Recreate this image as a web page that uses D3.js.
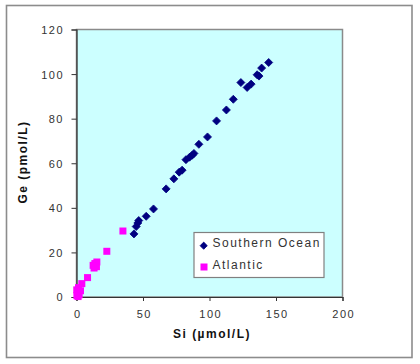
<!DOCTYPE html>
<html>
<head>
<meta charset="utf-8">
<script src="https://cdn.jsdelivr.net/npm/d3@7"></script>
<style>
  body { margin: 0; background: #fff; }
  text { font-family: "Liberation Sans", Arial, sans-serif; }
</style>
</head>
<body>
<div id="chart"></div>
<script>
// Southern Ocean (diamonds)
const southernSi = [43.2, 44.9, 46.1, 46.8, 52.4, 57.9, 67.4, 73.2, 77.2, 79.4, 82.3, 85.0, 87.0, 88.3,
  92.0, 98.5, 105.3, 112.7, 117.9, 123.6, 128.3, 131.3, 135.8, 137.2, 139.2, 144.5];
const southernGe = [28.3, 31.6, 33.2, 34.3, 36.2, 39.5, 48.5, 53.0, 56.0, 56.9, 61.6, 62.7, 63.6, 64.4,
  68.5, 71.8, 79.0, 83.9, 88.7, 96.2, 94.0, 95.5, 99.7, 99.1, 102.7, 105.2];
// Atlantic (squares)
const atlanticSi = [34.9, 22.8, 15.3, 13.8, 12.5, 13.2, 15.0, 8.3, 4.0, 1.5, 0.2, 0.8, 2.0, 3.0, 0.3, 1.2];
const atlanticGe = [29.6, 20.5, 15.7, 15.0, 14.2, 13.0, 13.6, 8.7, 6.0, 4.2, 3.2, 1.8, 1.0, 2.8, 0.6, 0.2];

const seriesNames = ["Southern Ocean", "Atlantic"];
const xTicks = [0, 50, 100, 150, 200];
const yTicks = [0, 20, 40, 60, 80, 100, 120];

const width = 420, height = 364;
const plot = { left: 76.5, right: 342.5, top: 29.5, bottom: 297 };

const svg = d3.select("#chart")
  .append("svg")
  .attr("width", width)
  .attr("height", height);

// outer frame
svg.append("rect")
  .attr("x", 6.5).attr("y", 5.5)
  .attr("width", 405.5).attr("height", 352)
  .attr("fill", "#fff")
  .attr("stroke", "#8c8c8c")
  .attr("stroke-width", 1.6);

const x = d3.scaleLinear().domain([0, 200]).range([plot.left, plot.right]);
const y = d3.scaleLinear().domain([0, 120]).range([plot.bottom, plot.top]);

// plot area
svg.append("rect")
  .attr("x", plot.left).attr("y", plot.top)
  .attr("width", plot.right - plot.left).attr("height", plot.bottom - plot.top)
  .attr("fill", "#ccffff")
  .attr("stroke", "#8a8a8a")
  .attr("stroke-width", 1.5);

// axes
const xAxis = svg.append("g")
  .attr("transform", `translate(0,${plot.bottom})`)
  .call(d3.axisBottom(x).tickValues(xTicks).tickSize(4).tickPadding(9));
const yAxis = svg.append("g")
  .attr("transform", `translate(${plot.left},0)`)
  .call(d3.axisLeft(y).tickValues(yTicks).tickSize(5).tickPadding(9));

[xAxis, yAxis].forEach(g => {
  g.select(".domain").attr("stroke", "#333").attr("stroke-width", 1.2);
  g.selectAll(".tick line").attr("stroke", "#333");
  g.selectAll(".tick text")
    .attr("fill", "#333")
    .style("font-size", "11px")
    .style("letter-spacing", "1.5px");
});
xAxis.selectAll(".tick text").attr("dx", "0.75px");
yAxis.selectAll(".tick text").attr("dx", "1.5px").attr("dy", "0.36em");

// axis titles
svg.append("text")
  .attr("x", 212).attr("y", 338)
  .attr("text-anchor", "middle")
  .style("font-size", "12px")
  .style("font-weight", "bold")
  .style("letter-spacing", "1.5px")
  .attr("fill", "#111")
  .text("Si (µmol/L)");

svg.append("text")
  .attr("transform", "translate(27,162) rotate(-90)")
  .attr("text-anchor", "middle")
  .style("font-size", "12px")
  .style("font-weight", "bold")
  .style("letter-spacing", "1.5px")
  .attr("fill", "#111")
  .text("Ge (pmol/L)");

// markers
const diamond = s => `M0,${-s}L${s},0L0,${s}L${-s},0Z`;

svg.append("g")
  .selectAll("path")
  .data(d3.zip(southernSi, southernGe))
  .join("path")
  .attr("transform", d => `translate(${x(d[0])},${y(d[1])})`)
  .attr("d", diamond(4))
  .attr("fill", "#000080")
  .attr("stroke", "#000080")
  .attr("stroke-width", 0.8)
  .attr("stroke-linejoin", "round");

svg.append("g")
  .selectAll("rect")
  .data(d3.zip(atlanticSi, atlanticGe))
  .join("rect")
  .attr("x", d => x(d[0]) - 3.5)
  .attr("y", d => y(d[1]) - 3.5)
  .attr("width", 7).attr("height", 7)
  .attr("fill", "#ff00ff");

// legend
const legend = svg.append("g");
legend.append("rect")
  .attr("x", 194).attr("y", 232.5)
  .attr("width", 130).attr("height", 45)
  .attr("fill", "#fff")
  .attr("stroke", "#808080")
  .attr("stroke-width", 1.2);

legend.append("path")
  .attr("transform", "translate(203.7,245.7)")
  .attr("d", diamond(3.6))
  .attr("fill", "#000080")
  .attr("stroke", "#000080")
  .attr("stroke-width", 0.8)
  .attr("stroke-linejoin", "round");
legend.append("rect")
  .attr("x", 200.5).attr("y", 263.5)
  .attr("width", 7).attr("height", 7)
  .attr("fill", "#ff00ff");

legend.selectAll("text")
  .data(seriesNames)
  .join("text")
  .attr("x", 212.5)
  .attr("y", (d, i) => 246.5 + i * 22.6)
  .style("font-size", "12px")
  .style("letter-spacing", "1.5px")
  .attr("fill", "#333")
  .text(d => d);
</script>
</body>
</html>
